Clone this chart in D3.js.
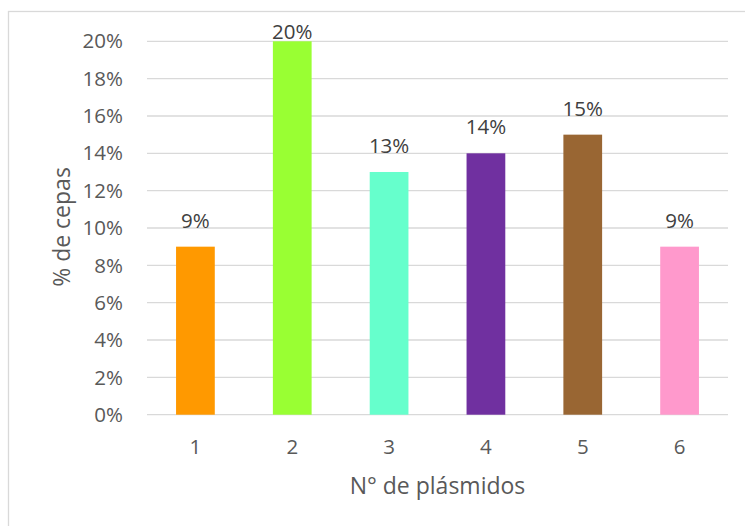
<!DOCTYPE html>
<html>
<head>
<meta charset="utf-8">
<script src="https://cdn.jsdelivr.net/npm/d3@7"></script>
<style>
  body { margin: 0; background: #fff; }
  text { font-family: "Open Sans", sans-serif; }
</style>
</head>
<body>
<div id="chart"></div>
<script>
var categories = ["1", "2", "3", "4", "5", "6"];
var values = [0.09, 0.20, 0.13, 0.14, 0.15, 0.09];
var colors = ["#FF9900", "#99FF33", "#66FFCC", "#7030A0", "#996633", "#FF99CC"];
var yTicks = [0, 0.02, 0.04, 0.06, 0.08, 0.10, 0.12, 0.14, 0.16, 0.18, 0.20];

var width = 745,
    height = 526;

var margin = {top: 41.3, left: 147, right: 17, bottom: 111};

var svg = d3.select("#chart").append("svg")
    .attr("width", width)
    .attr("height", height);

// chart border (runs off the right and bottom)
svg.append("rect")
    .attr("x", 8.5).attr("y", 11.5)
    .attr("width", width).attr("height", height)
    .attr("fill", "none")
    .attr("stroke", "#D9D9D9")
    .attr("stroke-width", 1.3);

var x = d3.scaleBand()
    .domain(categories)
    .range([margin.left, width - margin.right])
    .paddingInner(0.6)
    .paddingOuter(0.3);

var y = d3.scaleLinear()
    .domain([0, 0.20])
    .range([height - margin.bottom - 0.3, margin.top]);

var pct = d3.format(".0%");

// gridlines
svg.append("g").selectAll("line")
    .data(yTicks)
    .enter().append("line")
    .attr("x1", margin.left)
    .attr("x2", width - margin.right)
    .attr("y1", function(d) { return y(d); })
    .attr("y2", function(d) { return y(d); })
    .attr("stroke", "#D9D9D9")
    .attr("stroke-width", 1.3);

// y tick labels
svg.append("g").selectAll("text")
    .data(yTicks)
    .enter().append("text")
    .attr("x", 123)
    .attr("y", function(d) { return y(d); })
    .attr("dy", "0.35em")
    .attr("text-anchor", "end")
    .attr("fill", "#595959")
    .style("font-size", "20.5px")
    .text(pct);

// bars
svg.append("g").selectAll("rect")
    .data(values)
    .enter().append("rect")
    .attr("x", function(d, i) { return x(categories[i]); })
    .attr("y", function(d) { return y(d); })
    .attr("width", x.bandwidth())
    .attr("height", function(d) { return y(0) - y(d); })
    .attr("fill", function(d, i) { return colors[i]; });

// data labels, the top one gets pushed down inside the plot
svg.append("g").selectAll("text")
    .data(values)
    .enter().append("text")
    .attr("x", function(d, i) { return x(categories[i]) + x.bandwidth() / 2; })
    .attr("y", function(d) { return Math.max(y(d) - 19, y(0.20) - 2.5); })
    .attr("text-anchor", "middle")
    .attr("fill", "#404040")
    .style("font-size", "20.5px")
    .text(pct);

// x tick labels
svg.append("g").selectAll("text")
    .data(categories)
    .enter().append("text")
    .attr("x", function(d) { return x(d) + x.bandwidth() / 2; })
    .attr("y", 447)
    .attr("dy", "0.35em")
    .attr("text-anchor", "middle")
    .attr("fill", "#595959")
    .style("font-size", "20.5px")
    .text(function(d) { return d; });

// axis titles
svg.append("text")
    .attr("x", (margin.left + width - margin.right) / 2)
    .attr("y", 486)
    .attr("dy", "0.35em")
    .attr("text-anchor", "middle")
    .attr("fill", "#595959")
    .style("font-size", "23px")
    .text("N° de plásmidos");

svg.append("text")
    .attr("transform", "translate(62,227) rotate(-90)")
    .attr("dy", "0.35em")
    .attr("text-anchor", "middle")
    .attr("fill", "#595959")
    .style("font-size", "23px")
    .text("% de cepas");
</script>
</body>
</html>
